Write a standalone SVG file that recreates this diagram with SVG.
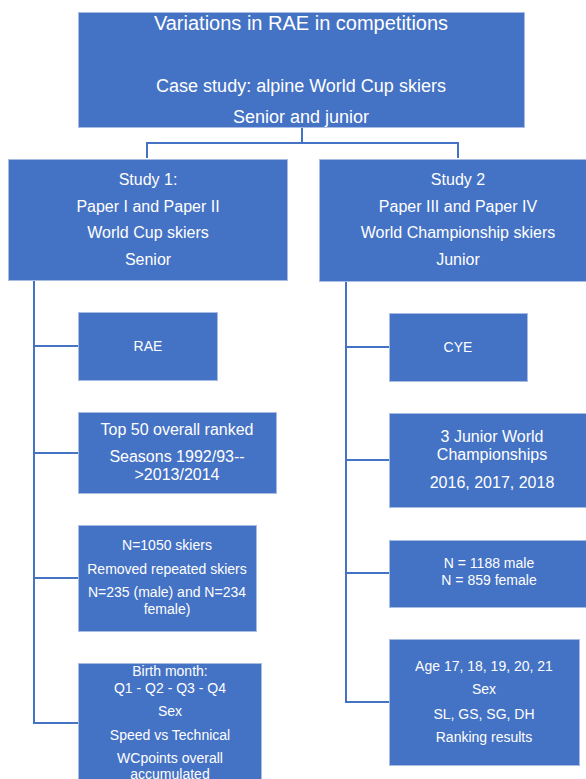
<svg xmlns="http://www.w3.org/2000/svg" width="586" height="779" viewBox="0 0 586 779">
<style>
.box{fill:#4472C4;stroke:#A9BDE4;stroke-width:1}
.c{fill:none;stroke:#4472C4;stroke-width:2}
text{font-family:"Liberation Sans",Arial,sans-serif;fill:#ffffff;text-anchor:middle}
.t20{font-size:20px}.t18{font-size:18px}.t16{font-size:16px}.t14{font-size:14px}
</style>
<rect width="586" height="779" fill="#ffffff"/>
<g id="connectors">
<path class="c" d="M302,127 V143 M147,158 V143 H458 V158"/>
<path class="c" d="M34,280 V724 M33,346 H78 M33,453 H78 M33,578 H78 M33,723 H78"/>
<path class="c" d="M346,281 V703 M345,347 H389 M345,460 H389 M345,573 H389 M345,702 H389"/>
</g>
<g id="root">
<rect class="box" x="78.5" y="12.5" width="446" height="115"/>
<text class="t20" x="301" y="30">Variations in RAE in competitions</text>
<text class="t18" x="301" y="92">Case study: alpine World Cup skiers</text>
<text class="t18" x="301" y="123">Senior and junior</text>
</g>
<g id="study1">
<rect class="box" x="8.5" y="159.5" width="279" height="121"/>
<text class="t16" x="148" y="185">Study 1:</text>
<text class="t16" x="148" y="212">Paper I and Paper II</text>
<text class="t16" x="148" y="238">World Cup skiers</text>
<text class="t16" x="148" y="265">Senior</text>
</g>
<g id="study2">
<rect class="box" x="319.5" y="159.5" width="280" height="122"/>
<text class="t16" x="458" y="185">Study 2</text>
<text class="t16" x="458" y="212">Paper III and Paper IV</text>
<text class="t16" x="458" y="238">World Championship skiers</text>
<text class="t16" x="458" y="265">Junior</text>
</g>
<g id="rae">
<rect class="box" x="78.5" y="312.5" width="139" height="68"/>
<text class="t14" x="148" y="351">RAE</text>
</g>
<g id="top50">
<rect class="box" x="78.5" y="412.5" width="198" height="81"/>
<text class="t16" x="177" y="435">Top 50 overall ranked</text>
<text class="t16" x="177" y="462">Seasons 1992/93--</text>
<text class="t16" x="177" y="480">&gt;2013/2014</text>
</g>
<g id="n1050">
<rect class="box" x="78.5" y="525.5" width="178" height="106"/>
<text class="t14" x="167" y="550">N=1050 skiers</text>
<text class="t14" x="167" y="574">Removed repeated skiers</text>
<text class="t14" x="167" y="597">N=235 (male) and N=234</text>
<text class="t14" x="167" y="614">female)</text>
</g>
<g id="birth">
<rect class="box" x="78.5" y="663.5" width="183" height="130"/>
<text class="t14" x="170" y="676">Birth month:</text>
<text class="t14" x="170" y="693">Q1 - Q2 - Q3 - Q4</text>
<text class="t14" x="170" y="716">Sex</text>
<text class="t14" x="170" y="740">Speed vs Technical</text>
<text class="t14" x="170" y="763">WCpoints overall</text>
<text class="t14" x="170" y="779">accumulated</text>
</g>
<g id="cye">
<rect class="box" x="389.5" y="313.5" width="138" height="68"/>
<text class="t14" x="458" y="352">CYE</text>
</g>
<g id="junior">
<rect class="box" x="389.5" y="413.5" width="206" height="94"/>
<text class="t16" x="492" y="442">3 Junior World</text>
<text class="t16" x="492" y="460">Championships</text>
<text class="t16" x="492" y="488">2016, 2017, 2018</text>
</g>
<g id="n1188">
<rect class="box" x="389.5" y="540.5" width="206" height="67"/>
<text class="t14" x="489" y="568">N = 1188 male</text>
<text class="t14" x="489" y="585">N = 859 female</text>
</g>
<g id="age">
<rect class="box" x="389.5" y="639.5" width="190" height="126"/>
<text class="t14" x="484" y="671">Age 17, 18, 19, 20, 21</text>
<text class="t14" x="484" y="694">Sex</text>
<text class="t14" x="484" y="719">SL, GS, SG, DH</text>
<text class="t14" x="484" y="742">Ranking results</text>
</g>
</svg>
